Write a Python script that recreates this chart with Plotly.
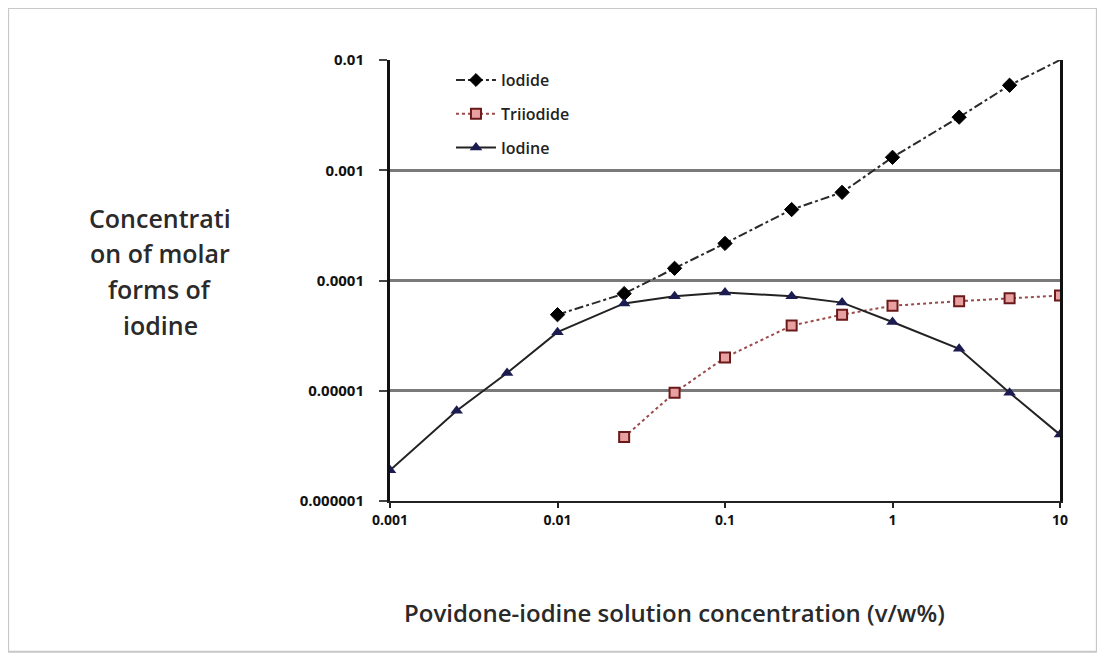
import plotly.graph_objects as go

x_vals = [0.001, 0.0025, 0.005, 0.01, 0.025, 0.05, 0.1, 0.25, 0.5, 1, 2.5, 5, 10]

iodide_x = [0.01, 0.025, 0.05, 0.1, 0.25, 0.5, 1, 2.5, 5, 10]
iodide_y = [4.9e-5, 7.6e-5, 1.29e-4, 2.17e-4, 4.4e-4, 6.3e-4, 1.31e-3, 3.03e-3, 5.9e-3, 1.0e-2]

triiodide_x = [0.025, 0.05, 0.1, 0.25, 0.5, 1, 2.5, 5, 10]
triiodide_y = [3.8e-6, 9.6e-6, 2.0e-5, 3.9e-5, 4.9e-5, 5.9e-5, 6.5e-5, 6.9e-5, 7.3e-5]

iodine_x = x_vals
iodine_y = [1.9e-6, 6.6e-6, 1.45e-5, 3.4e-5, 6.2e-5, 7.2e-5, 7.8e-5, 7.2e-5, 6.3e-5, 4.2e-5, 2.4e-5, 9.6e-6, 4.0e-6]

x_ticks = [0.001, 0.01, 0.1, 1, 10]
x_ticktext = ["0.001", "0.01", "0.1", "1", "10"]
y_ticks = [1e-6, 1e-5, 1e-4, 1e-3, 1e-2]
y_ticktext = ["0.000001", "0.00001", "0.0001", "0.001", "0.01"]

y_title_lines = ["Concentrati", "on of molar", "forms of", "iodine"]
x_title = "Povidone-iodine solution concentration (v/w%)"

font_family = "Open Sans, Lato, sans-serif"

iodide_marker_sizes = [11] * (len(iodide_x) - 1) + [0]

fig = go.Figure()
fig.add_trace(go.Scatter(
    x=iodide_x, y=iodide_y, name="Iodide", mode="lines+markers",
    legendgroup="a",
    line=dict(color="#2a2a2a", width=2, dash="dashdot"),
    marker=dict(symbol="diamond", size=iodide_marker_sizes, color="#000000",
                opacity=1, line=dict(color="#000000", width=1)),
))
fig.add_trace(go.Scatter(
    x=triiodide_x, y=triiodide_y, name="Triiodide", mode="lines+markers",
    legendgroup="b",
    line=dict(color="#9a4a4a", width=2, dash="dot"),
    marker=dict(symbol="square", size=10, color="#e8a0a0",
                line=dict(color="#6a1a1a", width=2)),
))
fig.add_trace(go.Scatter(
    x=iodine_x, y=iodine_y, name="Iodine", mode="lines+markers",
    legendgroup="c",
    line=dict(color="#222222", width=2),
    marker=dict(symbol="triangle-up", size=11, color="#1c1c50"),
))

# outer frame
fig.add_shape(type="rect", xref="paper", yref="paper",
              x0=-0.570, x1=1.055, y0=-0.342, y1=1.118,
              line=dict(color="#c8c8c8", width=2), fillcolor="rgba(0,0,0,0)",
              layer="below")

# y title, one annotation per line (reference line pitch ~36px)
y_line_px = [218, 253, 289, 325]
for txt, py in zip(y_title_lines, y_line_px):
    fig.add_annotation(
        xref="paper", yref="paper", x=-0.343, y=(501 - py) / 441,
        xanchor="center", yanchor="middle",
        text=txt, showarrow=False,
        font=dict(family=font_family, size=25, color="#2a2a2a", weight=600),
    )

fig.add_annotation(
    xref="paper", yref="paper", x=0.425, y=-0.252, xanchor="center", yanchor="middle",
    text=x_title, showarrow=False,
    font=dict(family=font_family, size=24, color="#2a2a2a", weight=600),
)

fig.update_layout(
    width=1105, height=659,
    margin=dict(l=382, r=53, t=52, b=166),
    paper_bgcolor="white", plot_bgcolor="white",
    font=dict(family=font_family, color="#222222"),
    showlegend=True,
    legend=dict(x=0.091, y=0.993, xanchor="left", yanchor="top",
                bgcolor="rgba(255,255,255,0)",
                traceorder="grouped", tracegroupgap=10,
                font=dict(family=font_family, size=16, color="#222222", weight=600),
                itemwidth=40),
    xaxis=dict(type="log", range=[-3, 1], tickvals=x_ticks, ticktext=x_ticktext,
               showgrid=False, showline=True, linecolor="#222222", linewidth=2,
               ticks="outside", ticklen=5, tickcolor="#222222", tickwidth=2,
               tickfont=dict(family=font_family, size=14, color="#111111", weight="bold"),
               zeroline=False),
    yaxis=dict(type="log", range=[-6, -2], tickvals=y_ticks, ticktext=y_ticktext,
               showgrid=True, gridcolor="#7a7a7a", gridwidth=3,
               showline=True, linecolor="#111111", linewidth=3, mirror=True,
               ticks="outside", ticklen=8, tickcolor="#444444", tickwidth=2,
               ticklabelstandoff=12,
               tickfont=dict(family=font_family, size=15, color="#111111", weight="bold"),
               zeroline=False),
)

fig.write_html("out.html")
